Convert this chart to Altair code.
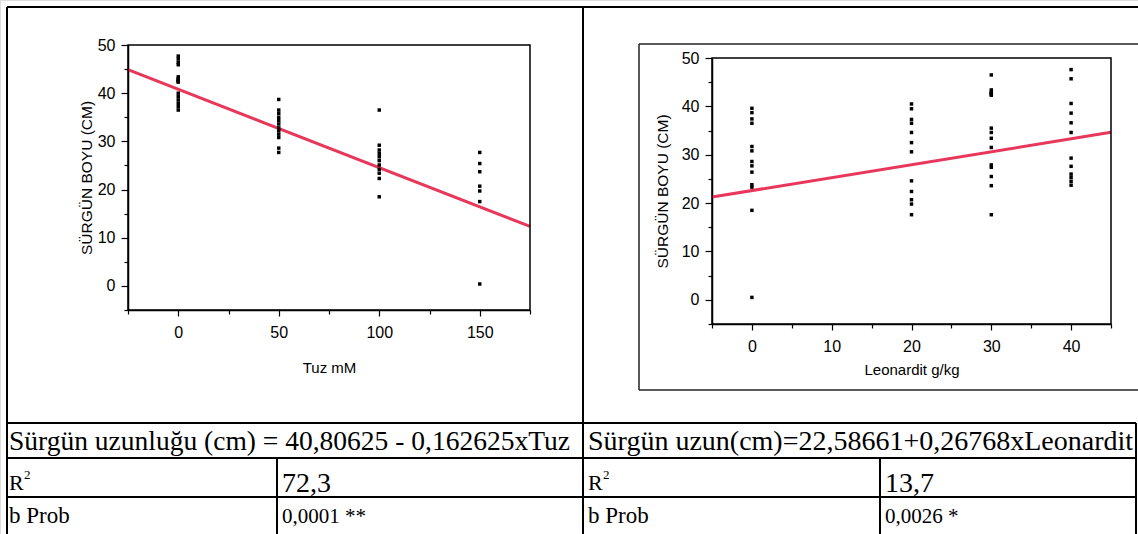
import altair as alt
import pandas as pd

# ---------------- data ----------------
tuz_levels = [0, 50, 100, 150]
tuz_0 = [47.7, 47.1, 46.4, 45.9, 43.4, 43.0, 42.8, 42.6, 42.4, 42.3, 40.0, 39.3, 38.6, 37.9, 37.2, 36.5]
tuz_50 = [38.7, 36.5, 35.8, 35.0, 34.3, 33.6, 32.8, 32.2, 31.5, 30.8, 28.6, 27.7]
tuz_100 = [36.5, 29.2, 28.2, 27.5, 26.8, 26.0, 25.1, 24.2, 23.4, 22.3, 18.5]
tuz_150 = [27.7, 25.4, 23.7, 20.7, 19.7, 17.5, 0.4]

leo_levels = [0, 20, 30, 40]
leo_0 = [39.6, 38.7, 37.4, 36.5, 31.7, 30.8, 28.6, 27.7, 26.4, 23.8, 23.3, 18.5, 0.5]
leo_20 = [40.5, 39.5, 37.3, 36.5, 34.6, 32.5, 30.6, 24.6, 22.4, 20.7, 19.8, 17.6]
leo_30 = [46.5, 43.4, 42.9, 42.7, 42.5, 42.3, 35.5, 34.6, 33.4, 31.5, 27.9, 27.4, 25.5, 23.6, 17.6]
leo_40 = [47.6, 45.7, 40.6, 38.6, 36.6, 34.6, 29.3, 27.6, 26.0, 25.3, 24.5, 23.7]

tuz_coef = [40.80625, -0.162625]
leo_coef = [22.58661, 0.26768]

eq_texts = ["Sürgün uzunluğu (cm) = 40,80625 - 0,162625xTuz",
            "Sürgün uzun(cm)=22,58661+0,26768xLeonardit"]
r2_values = ["72,3", "13,7"]
prob_values = ["0,0001 **", "0,0026 *"]

W, H = 1138, 534
SANS = "Liberation Sans"
SERIF = "Liberation Serif"
RED = "#e8375b"


def long_df(levels, groups):
    rows = []
    for lv, vs in zip(levels, groups):
        for v in vs:
            rows.append({"x": lv, "y": v})
    return pd.DataFrame(rows)


def panel(df, coef, xdom, xrange, xvals, xlab_step, xtitle, xtitle_pad,
          ydom, yrange, ytitle_pad, label_pad_x, label_pad_y):
    xs = alt.Scale(domain=xdom, range=xrange, nice=False, zero=False)
    ys = alt.Scale(domain=ydom, range=yrange, nice=False, zero=False)
    xaxis = alt.Axis(orient="bottom", offset=yrange[0] - H, values=xvals,
                     labelExpr=f"datum.value % {xlab_step} == 0 ? datum.label : ''",
                     tickSize={"condition": {"test": f"datum.value % {xlab_step} == 0", "value": 6}, "value": 4},
                     grid=False, domainColor="black", tickColor="black", domainWidth=1.5, tickWidth=1.2,
                     labelFont=SANS, labelFontSize=16, labelColor="black", labelPadding=label_pad_x,
                     labelAngle=0, labelFlush=False, labelOverlap=False,
                     title=xtitle, titleFont=SANS, titleFontSize=15, titleFontWeight="normal",
                     titleColor="black", titlePadding=xtitle_pad)
    yvals = list(range(-5, 51, 5))
    yaxis = alt.Axis(orient="left", offset=-xrange[0], values=yvals,
                     labelExpr="datum.value % 10 == 0 ? datum.label : ''",
                     tickSize={"condition": {"test": "datum.value % 10 == 0", "value": 7}, "value": 4},
                     grid=False, domainColor="black", tickColor="black", domainWidth=1.5, tickWidth=1.2,
                     labelFont=SANS, labelFontSize=16, labelColor="black", labelPadding=label_pad_y,
                     labelFlush=False, labelOverlap=False,
                     title="SÜRGÜN BOYU (CM)", titleFont=SANS, titleFontSize=15.5,
                     titleFontWeight="normal", titleColor="black", titlePadding=ytitle_pad)
    pts = alt.Chart(df).mark_square(size=12, color="black", opacity=1).encode(
        x=alt.X("x:Q", scale=xs, axis=xaxis),
        y=alt.Y("y:Q", scale=ys, axis=yaxis),
    )
    line = alt.Chart(pd.DataFrame({"x": xdom})).transform_calculate(
        y=f"{coef[0]} + ({coef[1]}) * datum.x"
    ).mark_line(color=RED, strokeWidth=3).encode(
        x=alt.X("x:Q", scale=xs, axis=xaxis),
        y=alt.Y("y:Q", scale=ys, axis=yaxis),
    )
    frame = alt.Chart(pd.DataFrame({"a": [0]})).mark_rect(
        fillOpacity=0, stroke="black", strokeWidth=1.5
    ).encode(
        x=alt.X(datum=xdom[0], type="quantitative", scale=xs, axis=xaxis),
        x2=alt.X2(datum=xdom[1]),
        y=alt.Y(datum=ydom[0], type="quantitative", scale=ys, axis=yaxis),
        y2=alt.Y2(datum=ydom[1]),
    )
    return alt.layer(line, pts, frame)


left = panel(long_df(tuz_levels, [tuz_0, tuz_50, tuz_100, tuz_150]), tuz_coef,
             [-25, 175], [128, 530], list(range(-25, 176, 25)), 50, "Tuz mM", 20,
             [-5, 50], [310, 45], 3, 8, 6)
right = panel(long_df(leo_levels, [leo_0, leo_20, leo_30, leo_40]), leo_coef,
              [-5, 45], [712, 1111], list(range(-5, 46, 5)), 10, "Leonardit g/kg", 8,
              [-5, 50], [324, 58], 11, 8, 6)

one = pd.DataFrame({"a": [0]})


def hrule(y, x1, x2, w=2, color="black"):
    return alt.Chart(one).mark_rule(color=color, strokeWidth=w).encode(
        x=alt.value(x1), x2=alt.value(x2), y=alt.value(y))


def vrule(x, y1, y2, w=2, color="black"):
    return alt.Chart(one).mark_rule(color=color, strokeWidth=w).encode(
        x=alt.value(x), y=alt.value(y1), y2=alt.value(y2))


def txt(s, x, y, size, font=SERIF):
    return alt.Chart(one).mark_text(align="left", baseline="alphabetic", font=font,
                                    fontSize=size, color="black").encode(
        x=alt.value(x), y=alt.value(y), text=alt.value(s))


L, MID, R = 7, 583, 1136
Y0, Y1, Y2, Y3 = 7, 423, 458, 497
CL, CR = 277, 880

table = [
    hrule(Y0, L, W), hrule(Y1, L, R), hrule(Y2, L, R), hrule(Y3, L, R),
    vrule(L, Y0, H), vrule(MID, Y0, H), vrule(R, Y1, H),
    vrule(CL, Y2, H), vrule(CR, Y2, H),
    # right chart frame box
    hrule(44, 639, W, w=1.5, color="#222"), hrule(390, 639, W, w=1.5, color="#222"),
    vrule(639, 44, 390, w=1.5, color="#222"),
]
texts = []
eq_sizes = [27.5, 28]
for i, x0 in enumerate([L + 2, MID + 5]):
    cx = [CL, CR][i] + 5
    texts += [
        txt(eq_texts[i], x0, 450, eq_sizes[i]),
        txt("R", x0, 490, 22),
        txt("2", x0 + 15, 479, 13),
        txt(r2_values[i], cx, 492, 28),
        txt("b Prob", x0, 523, 23),
        txt(prob_values[i], cx, 523, 21),
    ]

chart = alt.layer(*table, *texts, left, right).resolve_scale(
    x="independent", y="independent"
).properties(
    width=W, height=H, autosize=alt.AutoSizeParams(type="none"), padding=0
).configure_view(stroke=None).configure(background="white")

chart.save("out.html", embed_options={"renderer": "svg", "actions": False})
